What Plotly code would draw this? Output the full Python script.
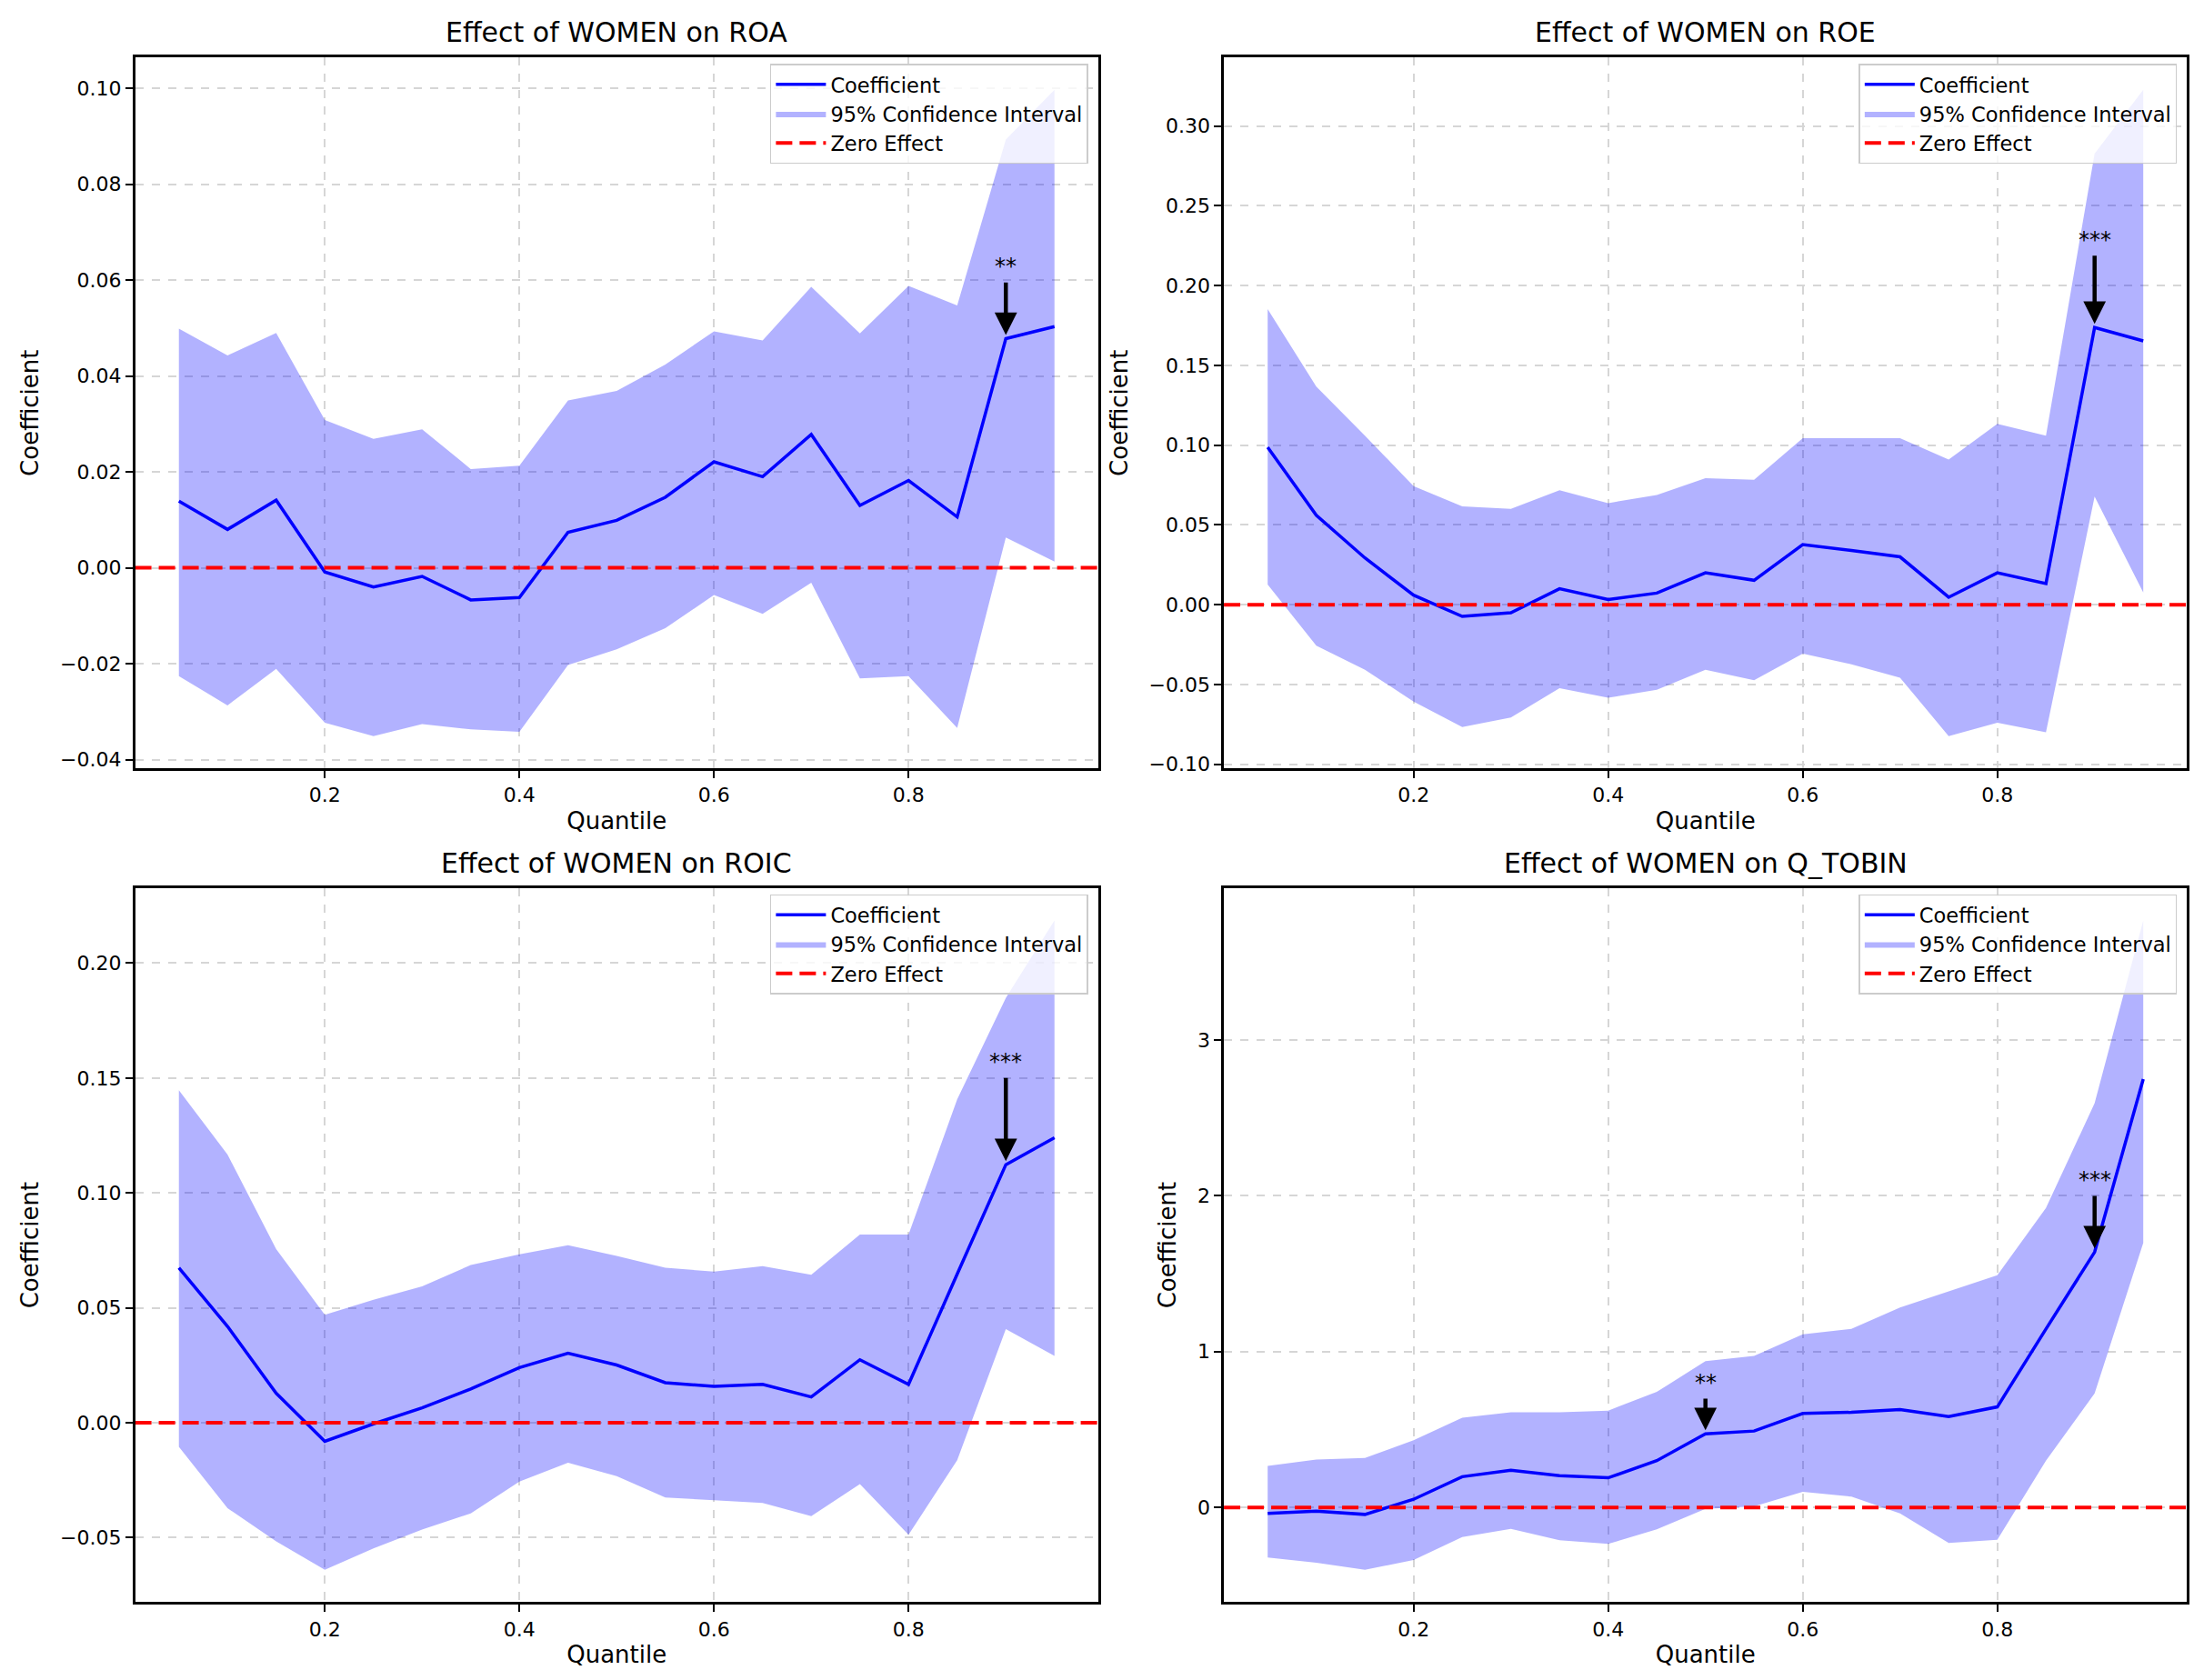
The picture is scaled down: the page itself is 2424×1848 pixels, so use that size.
import plotly.graph_objects as go
from plotly.subplots import make_subplots

# quantile regression results: effect of WOMEN on four performance measures
quantiles = [0.05, 0.10, 0.15, 0.20, 0.25, 0.30, 0.35, 0.40, 0.45, 0.50,
             0.55, 0.60, 0.65, 0.70, 0.75, 0.80, 0.85, 0.90, 0.95]

roa_coef = [0.0139, 0.0080, 0.0141, -0.0009, -0.0040, -0.0018, -0.0067, -0.0062, 0.0074, 0.0099,
            0.0147, 0.0221, 0.0190, 0.0278, 0.0130, 0.0182, 0.0106, 0.0478, 0.0503]
roa_lower = [-0.0226, -0.0287, -0.0211, -0.0323, -0.0351, -0.0326, -0.0337, -0.0342, -0.0203, -0.0170,
             -0.0126, -0.0057, -0.0096, -0.0031, -0.0231, -0.0226, -0.0334, 0.0063, 0.0013]
roa_upper = [0.0499, 0.0443, 0.0490, 0.0308, 0.0269, 0.0289, 0.0206, 0.0213, 0.0349, 0.0369,
             0.0424, 0.0493, 0.0474, 0.0586, 0.0489, 0.0588, 0.0547, 0.0893, 0.0997]
roa_sig_q = [0.90]
roa_sig_stars = ['**']
roa_sig_label = [0.0628]

roe_coef = [0.0987, 0.0560, 0.0293, 0.0060, -0.0073, -0.0050, 0.0100, 0.0033, 0.0073, 0.0200,
            0.0153, 0.0377, 0.0340, 0.0300, 0.0047, 0.0200, 0.0133, 0.1737, 0.1653]
roe_lower = [0.0127, -0.0257, -0.0407, -0.0607, -0.0767, -0.0707, -0.0523, -0.0583, -0.0533, -0.0407,
             -0.0473, -0.0307, -0.0373, -0.0457, -0.0823, -0.0740, -0.0800, 0.0677, 0.0077]
roe_upper = [0.1853, 0.1367, 0.1060, 0.0743, 0.0617, 0.0600, 0.0717, 0.0637, 0.0687, 0.0793,
             0.0783, 0.1043, 0.1043, 0.1043, 0.0910, 0.1133, 0.1060, 0.2827, 0.3227]
roe_sig_q = [0.90]
roe_sig_stars = ['***']
roe_sig_label = [0.2287]

roic_coef = [0.0674, 0.0419, 0.0128, -0.0081, -0.0005, 0.0065, 0.0147, 0.0240, 0.0302, 0.0251,
             0.0174, 0.0158, 0.0167, 0.0112, 0.0274, 0.0167, 0.0647, 0.1123, 0.1240]
roic_lower = [-0.0105, -0.0372, -0.0516, -0.0640, -0.0547, -0.0465, -0.0395, -0.0256, -0.0174, -0.0233,
              -0.0326, -0.0337, -0.0349, -0.0407, -0.0267, -0.0488, -0.0163, 0.0407, 0.0291]
roic_upper = [0.1447, 0.1167, 0.0756, 0.0470, 0.0535, 0.0593, 0.0686, 0.0733, 0.0772, 0.0726,
              0.0674, 0.0658, 0.0681, 0.0644, 0.0819, 0.0819, 0.1407, 0.1849, 0.2186]
roic_sig_q = [0.90]
roic_sig_stars = ['***']
roic_sig_label = [0.157]

qt_coef = [-0.038, -0.024, -0.045, 0.052, 0.197, 0.238, 0.203, 0.190, 0.300, 0.472,
           0.490, 0.603, 0.610, 0.628, 0.583, 0.645, 1.145, 1.638, 2.748]
qt_lower = [-0.321, -0.355, -0.400, -0.338, -0.190, -0.138, -0.210, -0.234, -0.141, -0.010,
            0.007, 0.100, 0.069, -0.038, -0.228, -0.207, 0.300, 0.731, 1.697]
qt_upper = [0.266, 0.307, 0.317, 0.431, 0.576, 0.610, 0.610, 0.621, 0.741, 0.938,
            0.972, 1.110, 1.145, 1.283, 1.386, 1.490, 1.921, 2.593, 3.766]
qt_sig_q = [0.50, 0.90]
qt_sig_stars = ['**', '***']
qt_sig_label = [0.80, 2.10]

panels = [
    ('ROA', roa_coef, roa_lower, roa_upper, roa_sig_q, roa_sig_stars, roa_sig_label, 0.02, '.2f'),
    ('ROE', roe_coef, roe_lower, roe_upper, roe_sig_q, roe_sig_stars, roe_sig_label, 0.05, '.2f'),
    ('ROIC', roic_coef, roic_lower, roic_upper, roic_sig_q, roic_sig_stars, roic_sig_label, 0.05, '.2f'),
    ('Q_TOBIN', qt_coef, qt_lower, qt_upper, qt_sig_q, qt_sig_stars, qt_sig_label, 1, 'd'),
]

W, H = 2424, 1848
x_doms = [[0.058, 0.495], [0.552, 0.989]]
y_doms = [[0.545, 0.970], [0.0465, 0.4735]]

fig = make_subplots(rows=2, cols=2)

qspan = quantiles[-1] - quantiles[0]
x_range = [quantiles[0] - 0.05 * qspan, quantiles[-1] + 0.05 * qspan]

for i, (name, coef, lower, upper, sig_q, sig_stars, sig_label, dtick, fmt) in enumerate(panels):
    row, col = i // 2 + 1, i % 2 + 1
    leg = 'legend' if i == 0 else 'legend%d' % (i + 1)
    xref = 'x' if i == 0 else 'x%d' % (i + 1)
    yref = 'y' if i == 0 else 'y%d' % (i + 1)
    xd, yd = x_doms[col - 1], y_doms[row - 1]

    lo, hi = min(lower), max(upper)
    y_range = [lo - 0.05 * (hi - lo), hi + 0.05 * (hi - lo)]

    # confidence band as a closed polygon
    fig.add_trace(go.Scatter(x=quantiles + quantiles[::-1], y=upper + lower[::-1],
                             fill='toself', fillcolor='rgba(0,0,255,0.3)', mode='lines',
                             line=dict(width=0), name='95% Confidence Interval',
                             legend=leg, legendrank=2, hoverinfo='skip'), row=row, col=col)
    fig.add_trace(go.Scatter(x=quantiles, y=coef, mode='lines', line=dict(color='blue', width=3.5),
                             name='Coefficient', legend=leg, legendrank=1), row=row, col=col)
    fig.add_trace(go.Scatter(x=x_range, y=[0, 0], mode='lines',
                             line=dict(color='red', width=4, dash='18px,8px'),
                             name='Zero Effect', legend=leg, legendrank=3), row=row, col=col)

    # significance stars with arrows
    for q, stars, label_y in zip(sig_q, sig_stars, sig_label):
        k = min(range(len(quantiles)), key=lambda j: abs(quantiles[j] - q))
        fig.add_annotation(x=q, y=coef[k], ax=q, ay=label_y, xref=xref, yref=yref,
                           axref=xref, ayref=yref, text=stars, showarrow=True,
                           arrowhead=2, arrowsize=1.1, arrowwidth=4.5, arrowcolor='black',
                           standoff=4, startstandoff=2, font=dict(size=24, color='black'))

    fig.add_annotation(x=(xd[0] + xd[1]) / 2, y=yd[1], xref='paper', yref='paper',
                       text='Effect of WOMEN on %s' % name, showarrow=False,
                       xanchor='center', yanchor='bottom', yshift=8,
                       font=dict(size=30, color='black'))

    fig.update_xaxes(domain=xd, range=x_range, tick0=0, dtick=0.2, row=row, col=col,
                     title=dict(text='Quantile', font=dict(size=26), standoff=8))
    fig.update_yaxes(domain=yd, range=y_range, dtick=dtick, tickformat=fmt, row=row, col=col,
                     title=dict(text='Coefficient', font=dict(size=26), standoff=16))

    fig.update_layout({leg: dict(x=xd[1] - 11 / W, y=yd[1] - 7 / H, xanchor='right', yanchor='top',
                                 bgcolor='rgba(255,255,255,0.8)', bordercolor='#cccccc',
                                 borderwidth=1.5, font=dict(size=22.5, color='black'),
                                 itemwidth=55, traceorder='normal')})

axis_style = dict(showgrid=True, gridcolor='#d6d6d6', griddash='dash', gridwidth=1.5,
                  showline=True, linecolor='black', linewidth=2.5, mirror=True,
                  ticks='outside', ticklen=8, tickwidth=2, tickcolor='black',
                  tickfont=dict(size=22, color='black'), zeroline=False)
fig.update_xaxes(**axis_style)
fig.update_yaxes(**axis_style)

fig.update_layout(width=W, height=H, margin=dict(l=0, r=0, t=0, b=0),
                  plot_bgcolor='white', paper_bgcolor='white',
                  font=dict(family='DejaVu Sans', color='black'))

fig.write_html('out.html')
